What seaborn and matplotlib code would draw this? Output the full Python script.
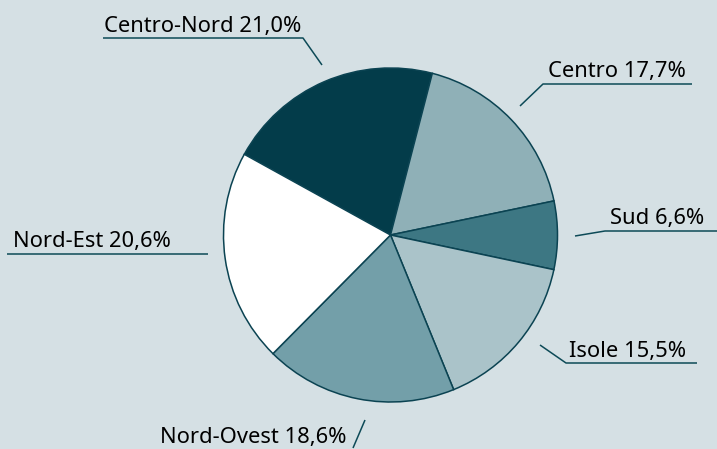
import matplotlib
matplotlib.use("Agg")
import matplotlib.pyplot as plt
import seaborn as sns

# data (clockwise from the top-left slice)
regions = ["Centro-Nord", "Centro", "Sud", "Isole", "Nord-Ovest", "Nord-Est"]
shares = [21.0, 17.7, 6.6, 15.5, 18.6, 20.6]
slice_colors = ["#033c4a", "#8fb0b7", "#3d7783", "#aac3c9", "#739fa9", "#ffffff"]

# layout in image pixels (x right, y down): text baseline start, leader polyline
label_layout = {
    "Centro-Nord": ((104, 32), [(103, 38), (303, 38), (322, 65)]),
    "Centro": ((548, 77), [(520, 106), (543, 84), (692, 84)]),
    "Sud": ((610, 224), [(575, 236), (605, 231), (717, 231)]),
    "Isole": ((569, 357), [(540, 345), (566, 363), (697, 363)]),
    "Nord-Est": ((13, 247), [(7, 254), (208, 254)]),
    "Nord-Ovest": ((160, 443), [(353, 448), (365, 420)]),
}

W, H = 717, 449
BG = "#d5e0e4"
EDGE = "#0b4352"
LINE = "#0d4a57"


def fmt(v: float) -> str:
    return f"{v:.1f}".replace(".", ",") + "%"


def main() -> None:
    sns.set_theme(style="white")
    plt.rcParams["font.family"] = ["Noto Sans", "DejaVu Sans"]

    fig = plt.figure(figsize=(W / 100, H / 100), dpi=100, facecolor=BG)
    ax = fig.add_axes([0, 0, 1, 1])
    ax.set_facecolor(BG)

    cx, cy, r = 390.5, H - 235, 167
    start = 151.1
    ax.pie(
        shares,
        colors=slice_colors,
        startangle=start,
        counterclock=False,
        center=(cx, cy),
        radius=r,
        wedgeprops={"edgecolor": EDGE, "linewidth": 1.1},
    )

    for name, val in zip(regions, shares):
        (tx, ty), pts = label_layout[name]
        xs = [p[0] for p in pts]
        ys = [H - p[1] for p in pts]
        ax.plot(xs, ys, color=LINE, lw=1.1, solid_capstyle="butt")
        ax.text(tx, H - ty, f"{name} {fmt(val)}", ha="left", va="baseline",
                fontsize=15.8, color="#000000")

    ax.set_xlim(0, W)
    ax.set_ylim(0, H)
    ax.set_aspect("equal")
    ax.axis("off")
    fig.savefig("out.png", dpi=100, facecolor=BG)
    plt.close(fig)


if __name__ == "__main__":
    main()
